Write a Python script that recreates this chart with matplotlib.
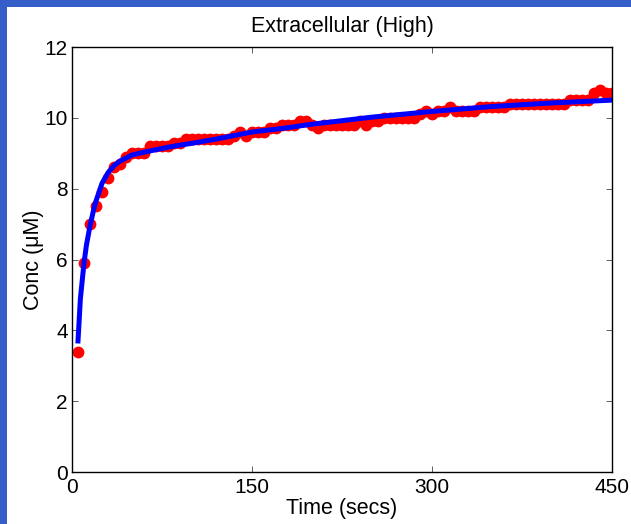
import numpy as np
import matplotlib
matplotlib.use('Agg')
import matplotlib.pyplot as plt
from matplotlib.patches import Rectangle

plt.rcParams['font.family'] = ['Liberation Sans', 'DejaVu Sans']

# measured concentrations, every 5 s
t_data = np.arange(5, 455, 5)
conc = [3.4, 5.9, 7.0, 7.5, 7.9, 8.3, 8.6, 8.7, 8.9, 9.0,
        9.0, 9.0, 9.2, 9.2, 9.2, 9.2, 9.3, 9.3, 9.4, 9.4,
        9.4, 9.4, 9.4, 9.4, 9.4, 9.4, 9.5, 9.6, 9.5, 9.6,
        9.6, 9.6, 9.7, 9.7, 9.8, 9.8, 9.8, 9.9, 9.9, 9.8,
        9.7, 9.8, 9.8, 9.8, 9.8, 9.8, 9.8, 9.9, 9.8, 9.9,
        9.9, 10.0, 10.0, 10.0, 10.0, 10.0, 10.0, 10.1, 10.2, 10.1,
        10.2, 10.2, 10.3, 10.2, 10.2, 10.2, 10.2, 10.3, 10.3, 10.3,
        10.3, 10.3, 10.4, 10.4, 10.4, 10.4, 10.4, 10.4, 10.4, 10.4,
        10.4, 10.4, 10.5, 10.5, 10.5, 10.5, 10.7, 10.8, 10.7, 10.7]

# fitted curve
t_fit = [5, 7, 10, 12, 15, 18, 20, 25, 30, 35, 40, 50, 60, 70, 80, 90, 100,
         120, 150, 175, 200, 250, 300, 350, 400, 450]
conc_fit = [3.7, 4.9, 5.9, 6.4, 6.95, 7.4, 7.65, 8.15, 8.45, 8.65, 8.78, 8.95,
            9.03, 9.1, 9.17, 9.23, 9.28, 9.4, 9.6, 9.7, 9.82, 10.02, 10.18,
            10.32, 10.42, 10.5]

fig = plt.figure(figsize=(6.31, 5.24), dpi=100)
fig.patch.set_facecolor('#355ec8')
fig.patches.append(Rectangle((7/631, 0), 1, 1 - 7/524, transform=fig.transFigure,
                             facecolor='white', edgecolor='none', zorder=-10))

ax = fig.add_axes([72/631, 52/524, 540/631, 425/524])
ax.set_zorder(5)
ax.plot(t_data, conc, 'o', color='#ff0000', markersize=8.5, markeredgewidth=0)
ax.plot(t_fit, conc_fit, '-', color='#0000ff', linewidth=3.6)

ax.set_xlim(0, 450)
ax.set_ylim(0, 12)
ax.set_xticks([0, 150, 300, 450])
ax.set_yticks([0, 2, 4, 6, 8, 10, 12])
ax.tick_params(direction='in', top=True, right=True, length=4, labelsize=15,
               width=0.6, color='#444444')
ax.tick_params(axis='x', pad=4)
ax.tick_params(axis='y', pad=3)
for s in ax.spines.values():
    s.set_linewidth(1.0)

ax.set_title('Extracellular (High)', fontsize=15.5, pad=11)
ax.set_xlabel('Time (secs)', fontsize=15.5, labelpad=1)
ax.set_ylabel('Conc (μM)', fontsize=15.5, labelpad=0)

fig.savefig('out.png', dpi=100, facecolor=fig.get_facecolor())
